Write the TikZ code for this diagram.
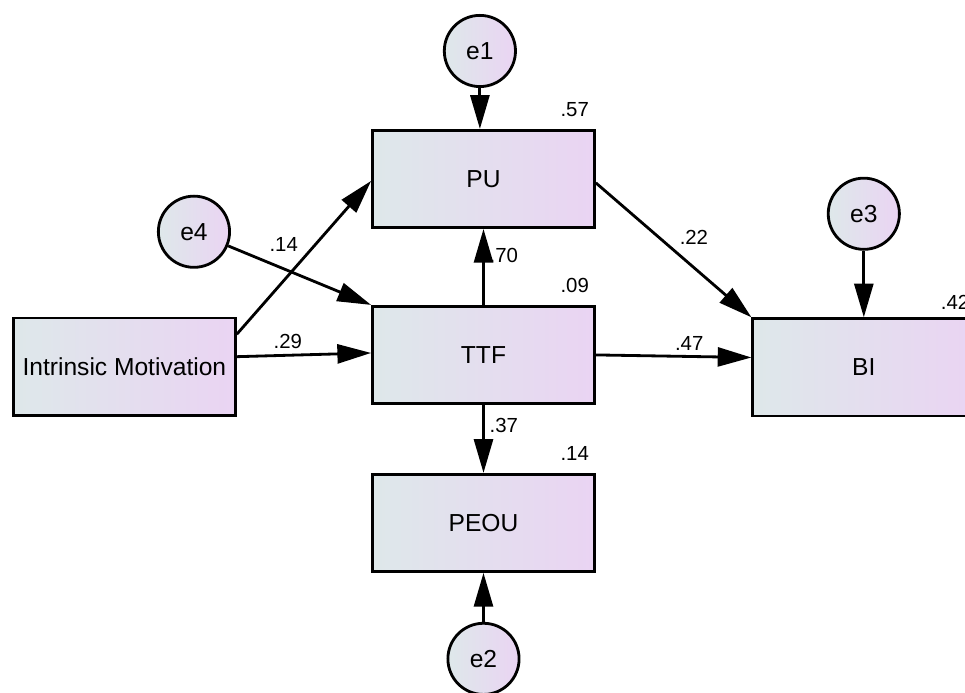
\documentclass[tikz,border=0pt]{standalone}
\usepackage{fontspec}
\setmainfont{Liberation Sans}
\usetikzlibrary{arrows.meta}
\usetikzlibrary{positioning}

\definecolor{fillleft}{RGB}{222,232,234}
\definecolor{fillright}{RGB}{234,212,243}

\begin{document}
\begin{tikzpicture}[line width=2pt,auto,->,>={Triangle[length=24pt,width=13.5pt]},
    font=\fontsize{14.5}{16}\selectfont,
    obs/.style={draw,rectangle,left color=fillleft,right color=fillright,
      minimum width=5.55cm,minimum height=2.43cm,font=\fontsize{17.5}{20}\selectfont},
    err/.style={draw,circle,left color=fillleft,right color=fillright,
      minimum size=1.78cm,inner sep=0pt,font=\fontsize{17.5}{20}\selectfont},
    rsq/.style={inner sep=0pt}]
  \useasboundingbox (-12.09,-8.45) rectangle (12.04,8.875);

  \node[obs] (TTF) {TTF};
  \node[obs] (PU) [node distance=4.4cm, above of=TTF] {PU};
  \node[obs] (PEOU) [node distance=4.2cm, below of=TTF] {PEOU};
  \node[obs] (IM) [node distance=8.98cm, left of=TTF, yshift=-2.9mm] {Intrinsic Motivation};
  \node[obs] (BI) [node distance=9.51cm, right of=TTF, yshift=-3.1mm] {BI};

  \node[err] (e1) [node distance=3.2cm, above of=PU, xshift=-0.09cm] {e1};
  \node[err] (e2) [node distance=3.4cm, below of=PEOU] {e2};
  \node[err] (e3) [node distance=3.84cm, above of=BI] {e3};
  \node[err] (e4) at (-7.24,3.08) {e4};

  % squared multiple correlations
  \node[rsq] (sq_PU) at ([shift={(-0.53,0.48)}]PU.north east) {.57};
  \node[rsq] (sq_TTF) at ([shift={(-0.53,0.48)}]TTF.north east) {.09};
  \node[rsq] (sq_PEOU) at ([shift={(-0.53,0.48)}]PEOU.north east) {.14};
  \node[rsq] (sq_BI) at ([shift={(-0.53,0.38)}]BI.north east) {.42};

  \draw[->] (IM.16) -- node {.14} (PU.181);
  \draw[->] (IM.5) -- node[pos=.38] {.29} (TTF.179);
  \draw[->] (TTF.north) -- node[swap,pos=.65] {.70} (TTF.north |- PU.south);
  \draw[->] (PU.-2) -- node {.22} (BI.north west);
  \draw[->] (TTF.east) -- node[pos=.6] {.47} (BI.175);
  \draw[->] (TTF.south) -- node[pos=.3] {.37} (TTF.south |- PEOU.north);

  \draw[->] (e1) -- (e1 |- PU.north);
  \draw[->] (e2) -- (e2 |- PEOU.south);
  \draw[->] (e3) -- (e3 |- BI.north);
  \draw[->] (e4) -- (TTF.north west);
\end{tikzpicture}
\end{document}
